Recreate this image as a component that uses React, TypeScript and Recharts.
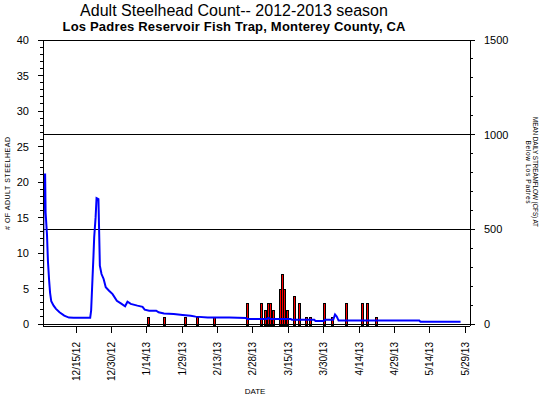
import React from 'react';
import { ComposedChart, Bar, Line, XAxis, YAxis, ReferenceLine } from 'recharts';

const START = Date.UTC(2012, 11, 1);
const dayOf = (s: string) => {
  const [y, m, d] = s.split('-').map(Number);
  return Math.round((Date.UTC(y, m - 1, d) - START) / 86400000);
};

// Adult steelhead counts per trap date
const countDates = [
  '2013-01-14', '2013-01-21', '2013-01-30', '2013-02-04', '2013-02-11',
  '2013-02-25', '2013-03-03', '2013-03-05', '2013-03-06', '2013-03-07',
  '2013-03-08', '2013-03-11', '2013-03-12', '2013-03-13', '2013-03-14',
  '2013-03-17', '2013-03-19', '2013-03-22', '2013-03-24', '2013-03-30',
  '2013-04-02', '2013-04-08', '2013-04-15', '2013-04-17', '2013-04-21',
];
const counts = [1, 1, 1, 1, 1, 3, 3, 2, 3, 3, 2, 5, 7, 5, 2, 4, 3, 1, 1, 3, 1, 3, 3, 3, 1];

// Mean daily streamflow (cfs), days since 12/1/12
const flowDays = [
  0, 0.3, 0.9, 1.1, 1.7, 2.1, 2.6, 3.0, 3.5, 4.5, 5.5, 7, 9, 11, 13, 20,
  20.4, 21, 21.4, 21.7, 22.3, 22.7, 23.5, 23.8, 24.1, 24.8, 25.7, 26.6, 28, 29.5,
  31.3, 33, 34.8, 35.8, 37.2, 40, 42.2, 43.1, 45, 48, 49, 51.3, 55.4, 59.2,
  62.6, 64.7, 69.8, 79, 86, 86.5, 95, 95.5, 96.5, 105, 105.5, 115, 115.5, 119,
  119.5, 123, 123.8, 124.5, 125.3, 159.5, 160, 177,
];
const flowCfs = [
  100, 790, 790, 590, 470, 330, 230, 165, 120, 97, 80, 62, 44, 34, 33, 33,
  70, 246, 361, 458, 563, 665, 660, 486, 308, 264, 238, 194, 176, 158,
  123, 109, 94, 118, 106, 97, 91, 76, 70, 70, 62, 56, 53, 48,
  44, 39, 35, 34, 32, 27, 27, 32, 27, 27, 22, 22, 16, 16,
  22, 22, 50, 40, 18, 18, 12, 12,
];

const tickDates = [
  '2012-12-15', '2012-12-30', '2013-01-14', '2013-01-29', '2013-02-13', '2013-02-28',
  '2013-03-15', '2013-03-30', '2013-04-14', '2013-04-29', '2013-05-14', '2013-05-29',
];
const tickLabels = [
  '12/15/12', '12/30/12', '1/14/13', '1/29/13', '2/13/13', '2/28/13',
  '3/15/13', '3/30/13', '4/14/13', '4/29/13', '5/14/13', '5/29/13',
];
const leftTicks = Array.from({ length: 41 }, (_, i) => i);
const rightTicks = Array.from({ length: 16 }, (_, i) => i * 100);

const barData = countDates.map((d, i) => ({ x: dayOf(d) + 0.5, count: counts[i] }));
const lineData = flowDays.map((d, i) => ({ x: d, flow: flowCfs[i] }));
const tickDays = tickDates.map(dayOf);

const FONT = '"Liberation Sans", Arial, Helvetica, sans-serif';
const LEFT_X = 43;
const RIGHT_X = 470;
const AXIS_Y = 326;

const LeftTick = (props: any) => {
  const { y, payload } = props;
  const v = payload.value;
  const major = v % 5 === 0;
  return (
    <g>
      <line x1={LEFT_X - (major ? 5 : 3)} x2={LEFT_X} y1={y} y2={y} stroke="#000" strokeWidth={1} />
      {major && (
        <text x={29} y={y} dy={4} textAnchor="end" fontSize={11} fontFamily={FONT} fill="#000">
          {v}
        </text>
      )}
    </g>
  );
};

const RightTick = (props: any) => {
  const { y, payload } = props;
  const v = payload.value;
  const major = v % 500 === 0;
  return (
    <g>
      <line x1={RIGHT_X} x2={RIGHT_X + (major ? 5 : 3)} y1={y} y2={y} stroke="#000" strokeWidth={1} />
      {major && (
        <text x={484} y={y} dy={4} textAnchor="start" fontSize={11} fontFamily={FONT} fill="#000">
          {v}
        </text>
      )}
    </g>
  );
};

const BottomTick = (props: any) => {
  const { x, payload } = props;
  const idx = tickDays.indexOf(payload.value);
  const label = idx >= 0 ? tickLabels[idx] : '';
  return (
    <g>
      <line x1={x} x2={x} y1={AXIS_Y} y2={AXIS_Y + 7} stroke="#000" strokeWidth={1} />
      <text
        x={x + 3.5}
        y={342}
        transform={`rotate(-90, ${x + 3.5}, 342)`}
        textAnchor="end"
        fontSize={10}
        fontFamily={FONT}
        fill="#000"
      >
        {label}
      </text>
    </g>
  );
};

const BarShape = (props: any) => {
  const { x, y, width, height } = props;
  if (height == null || height <= 0) return <g />;
  const cx = x + width / 2;
  const left = Math.round(cx - 1.5);
  const top = Math.round(y);
  const bottom = Math.round(y + height);
  return (
    <rect
      x={left + 0.5}
      y={top + 0.5}
      width={2}
      height={Math.max(1, bottom - top + 1)}
      fill="#ff0000"
      stroke="#000"
      strokeWidth={1}
    />
  );
};

export default function App() {
  return (
    <div style={{ position: 'absolute', left: 0, top: 0, width: 540, height: 396, background: '#fff' }}>
      <style>{'.recharts-wrapper line { shape-rendering: crispEdges; }'}</style>
      <ComposedChart width={540} height={396} data={barData} margin={{ top: 40, right: 0, bottom: 0, left: 0 }}>
        <XAxis
          xAxisId="bar"
          dataKey="x"
          type="number"
          domain={[0, 181]}
          allowDataOverflow
          ticks={tickDays}
          interval={0}
          height={70}
          tickLine={false}
          axisLine={{ stroke: '#000', strokeWidth: 1 }}
          tick={<BottomTick />}
        />
        <XAxis xAxisId="line" dataKey="x" type="number" domain={[0, 181]} allowDataOverflow hide />
        <YAxis
          yAxisId="left"
          width={43}
          type="number"
          domain={[-0.28, 40]}
          allowDataOverflow
          ticks={leftTicks}
          interval={0}
          tickLine={false}
          axisLine={{ stroke: '#000', strokeWidth: 1 }}
          tick={<LeftTick />}
        />
        <YAxis
          yAxisId="right"
          orientation="right"
          width={70}
          type="number"
          domain={[-10.5, 1500]}
          allowDataOverflow
          ticks={rightTicks}
          interval={0}
          tickLine={false}
          axisLine={{ stroke: '#000', strokeWidth: 1 }}
          tick={<RightTick />}
        />
        <ReferenceLine yAxisId="right" xAxisId="bar" y={1500} stroke="#000" strokeWidth={1} />
        <ReferenceLine yAxisId="right" xAxisId="bar" y={1000} stroke="#000" strokeWidth={1} />
        <ReferenceLine yAxisId="right" xAxisId="bar" y={500} stroke="#000" strokeWidth={1} />
        <ReferenceLine yAxisId="left" xAxisId="bar" y={0} stroke="#000" strokeWidth={1} />
        <Bar
          xAxisId="bar"
          yAxisId="left"
          dataKey="count"
          isAnimationActive={false}
          shape={<BarShape />}
        />
        <Line
          xAxisId="line"
          yAxisId="right"
          data={lineData}
          dataKey="flow"
          type="linear"
          stroke="#0000ff"
          strokeWidth={2}
          dot={false}
          activeDot={false}
          isAnimationActive={false}
        />
      </ComposedChart>
      <svg
        width={540}
        height={396}
        style={{ position: 'absolute', left: 0, top: 0, pointerEvents: 'none' }}
      >
        <text x={234} y={15.5} textAnchor="middle" fontSize={16} fontFamily={FONT} fill="#000">
          Adult Steelhead Count-- 2012-2013 season
        </text>
        <text
          x={234}
          y={31}
          textAnchor="middle"
          fontSize={13}
          fontWeight="bold"
          textLength={343}
          fontFamily={FONT}
          fill="#000"
        >
          Los Padres Reservoir Fish Trap, Monterey County, CA
        </text>
        <text
          x={10}
          y={183.5}
          transform="rotate(-90, 10, 183.5)"
          textAnchor="middle"
          fontSize={7}
          textLength={93}
          fontFamily={FONT}
          fill="#000"
        >
          # OF ADULT STEELHEAD
        </text>
        <text
          x={532.5}
          y={172}
          transform="rotate(90, 532.5, 172)"
          textAnchor="middle"
          fontSize={6.4}
          textLength={110}
          fontFamily={FONT}
          fill="#000"
        >
          MEAN DAILY STREAMFLOW (CFS) AT
        </text>
        <text
          x={526}
          y={172}
          transform="rotate(90, 526, 172)"
          textAnchor="middle"
          fontSize={6.6}
          textLength={63}
          fontFamily={FONT}
          fill="#000"
        >
          Below Los Padres
        </text>
        <text x={255} y={394} textAnchor="middle" fontSize={8} fontFamily={FONT} fill="#000">
          DATE
        </text>
      </svg>
    </div>
  );
}
